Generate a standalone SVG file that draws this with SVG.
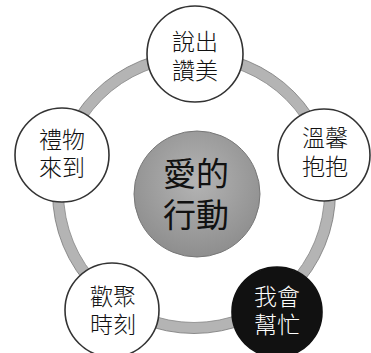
<svg xmlns="http://www.w3.org/2000/svg" width="371" height="353" viewBox="0 0 371 353">
<style>
.node{fill:#fff;stroke:#333;stroke-width:1.6}
.dark{fill:#111;stroke:#111;stroke-width:1.6}
.t{font-family:"Liberation Sans","Noto Sans CJK TC","Noto Sans CJK SC",sans-serif;font-weight:300;font-size:23px;text-anchor:middle;fill:#111}
.tw{fill:#fff}
.tc{font-size:33px;font-weight:400}
</style>
<defs>
<radialGradient id="cg" cx="0.5" cy="0.4" r="0.6">
<stop offset="0" stop-color="#b4b4b4"/>
<stop offset="1" stop-color="#8e8e8e"/>
</radialGradient>
</defs>
<rect width="371" height="353" fill="#fff"/>
<g id="connectors">
<circle cx="194" cy="192" r="136" fill="none" stroke="#b4b4b4" stroke-width="11"/>
<circle cx="194" cy="192" r="141.5" fill="none" stroke="#777" stroke-width="0.8"/>
<circle cx="194" cy="192" r="130.5" fill="none" stroke="#888" stroke-width="0.8"/>
</g>
<g id="center">
<circle cx="197" cy="194" r="63" fill="url(#cg)" stroke="#777" stroke-width="1"/>
<text class="t tc" x="196" y="186">愛的<tspan x="196" dy="41">行動</tspan></text>
</g>
<g id="n-top">
<circle class="node" cx="195" cy="54" r="48"/>
<text class="t" x="195" y="50">說出<tspan x="195" dy="29">讚美</tspan></text>
</g>
<g id="n-right">
<circle class="node" cx="324" cy="155" r="46"/>
<text class="t" x="325" y="146">溫馨<tspan x="325" dy="29">抱抱</tspan></text>
</g>
<g id="n-left">
<circle class="node" cx="62" cy="155" r="47"/>
<text class="t" x="62" y="148">禮物<tspan x="62" dy="28">來到</tspan></text>
</g>
<g id="n-bottom-left">
<circle class="node" cx="112" cy="310" r="47"/>
<text class="t" x="113" y="305">歡聚<tspan x="113" dy="28">時刻</tspan></text>
</g>
<g id="n-bottom-right">
<circle class="dark" cx="277" cy="312" r="45"/>
<text class="t tw" x="277" y="305">我會<tspan x="277" dy="28">幫忙</tspan></text>
</g>
</svg>
